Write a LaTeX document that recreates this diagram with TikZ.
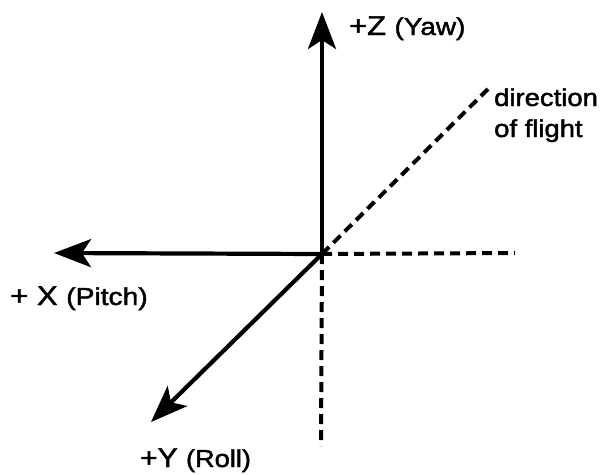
\documentclass[tikz,border=0pt]{standalone}
\usepackage{fontspec}
\setmainfont{Liberation Sans}[BoldFont=Liberation Sans,BoldFeatures={FakeBold=1.6}]
\usetikzlibrary{arrows.meta}
\newcommand{\bigtxt}{\fontsize{27}{30}\selectfont}
\newcommand{\smltxt}{\fontsize{24.5}{28}\selectfont}
\begin{document}
\begin{tikzpicture}[x=1pt,y=-1pt,
  axis/.style={line width=4.2pt,-{Stealth[length=37pt,width=28pt,inset=9pt]}},
  guide/.style={line width=4pt,dash pattern=on 10pt off 6pt},
  lbl/.style={inner sep=0pt,anchor=base west,font=\bfseries}]
\useasboundingbox (0,0) rectangle (602,474);
\coordinate (O) at (322,254);
\coordinate (Z) at (322,12);
\coordinate (X) at (54,253);
\coordinate (Y) at (151,422);
\coordinate (H) at (515,253);
\coordinate (V) at (321,446);
\coordinate (D) at (488,89);
\draw[guide] (O) -- (H);
\draw[guide] (O) -- (V);
\draw[guide] (O) -- (D);
\draw[axis] (O) -- (Z);
\draw[axis] (O) -- (X);
\draw[axis] (O) -- (Y);
\node[lbl] (zl) at (349,35) {\scalebox{1.14}[1]{\bigtxt +Z \smltxt(Yaw)}};
\node[lbl] (xl) at (10,305) {\scalebox{1.15}[1]{\bigtxt + X \smltxt(Pitch)}};
\node[lbl] (yl) at (140,467) {\scalebox{1.11}[1]{\bigtxt +Y \smltxt(Roll)}};
\node[lbl] (d1) at (494,106) {\scalebox{1.12}[1]{\smltxt direction}};
\node[lbl] (d2) at (494,137) {\scalebox{1.12}[1]{\smltxt of flight}};
\end{tikzpicture}
\end{document}
